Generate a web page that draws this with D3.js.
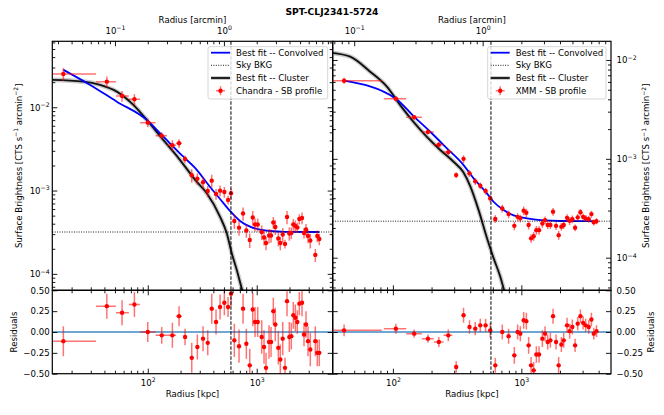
<!DOCTYPE html>
<html>
<head>
<meta charset="utf-8">
<script src="https://cdn.jsdelivr.net/npm/d3@7"></script>
<style>
body { margin: 0; background: #fff; }
svg { font-family: "DejaVu Sans", sans-serif; }
</style>
</head>
<body>
<svg width="664" height="415"></svg>
<script>
// ---- data ----
var title = "SPT-CLJ2341-5724";
var kpcPerArcmin = 500;
var r500 = 580;

// Chandra profile (left)
var chandraR = [16.8, 42.1, 58.1, 75.4, 100, 134.4, 168.2, 193.7, 219.9, 253.3,
  285.2, 321.6, 355.2, 386.5, 423.2, 460.7, 504.4, 545.5, 581, 623,
  688, 749, 803, 863, 919, 965, 1021, 1111, 1167, 1217,
  1297, 1353, 1420, 1481, 1578, 1646, 1732, 1818, 1897, 1991,
  2077, 2167, 2261, 2358, 2460, 2604, 2716, 2834, 2956, 3102,
  3449, 3597, 3752];
var chandraSB = [0.02512, 0.02029, 0.01367, 0.01247, 0.006533, 0.004562, 0.003498, 0.003697, 0.002394, 0.001527,
  0.00139, 0.001258, 0.000989, 0.001315, 0.00091, 0.000997, 0.000962, 0.000771, 0.000928, 0.000431,
  0.000359, 0.000531, 0.000332, 0.000255, 0.000475, 0.000392, 0.000392, 0.000318, 0.000273, 0.000235,
  0.000289, 0.000289, 0.000414, 0.000366, 0.000266, 0.000235, 0.000297, 0.000229, 0.000482, 0.000305,
  0.00031, 0.000392, 0.000376, 0.000361, 0.000456, 0.000469, 0.00031, 0.000341, 0.000285, 0.000252,
  0.000169, 0.000285, 0.000262];
var chandraRes = [-0.11, 0.31, 0.23, 0.33, 0.0, -0.04, -0.04, 0.19, -0.06, -0.31,
  -0.18, -0.08, -0.13, 0.28, 0.12, 0.30, 0.35, 0.30, 0.46, -0.10,
  -0.17, 0.28, -0.14, -0.40, 0.27, 0.12, 0.12, -0.06, -0.18, -0.43,
  -0.12, -0.12, 0.25, 0.09, -0.19, -0.33, -0.08, -0.43, 0.37, -0.06,
  -0.05, 0.20, 0.17, 0.12, 0.34, 0.35, -0.03, 0.09, -0.11, -0.21,
  -0.11, -0.25, -0.25];
var chandraErr = [0.18, 0.15, 0.15, 0.15, 0.12, 0.1, 0.15, 0.12, 0.1, 0.18,
  0.15, 0.15, 0.15, 0.18, 0.15, 0.15, 0.15, 0.12, 0.15, 0.2,
  0.2, 0.18, 0.18, 0.2, 0.2, 0.18, 0.18, 0.2, 0.2, 0.18,
  0.2, 0.18, 0.16, 0.2, 0.2, 0.18, 0.2, 0.12, 0.18, 0.18,
  0.16, 0.16, 0.16, 0.14, 0.14, 0.16, 0.14, 0.16, 0.18, 0.2,
  0.18, 0.16, 0.16];
var chandraBins = [[13.3, 33.5], [33.5, 51], [51, 67], [67, 85], [85, 118], [118, 150], [150, 182], [182, 205]];
var chandraBkg = 3.18e-4;
var chandraConv = [[16.8, 0.0281], [29.6, 0.01853], [52, 0.01167], [97.9, 0.00705], [134.4, 0.00465],
  [212, 0.00255], [271.6, 0.001867], [372.9, 0.001105], [460.7, 0.000793], [568.9, 0.000569],
  [702.7, 0.000432], [867.9, 0.000369], [1072, 0.000339], [1324, 0.000327], [1818, 0.00032], [3752, 0.000318]];
var chandraClus = [[13.3, 0.0213], [25.6, 0.0203], [36.5, 0.01853], [52, 0.0154], [73.8, 0.01066],
  [97.9, 0.00705], [134, 0.00428], [190, 0.00249], [282, 0.00127], [348, 0.00093],
  [460, 0.000487], [531, 0.000307], [590, 0.000177], [656, 0.000111], [728, 6.7e-5], [781, 4.85e-5]];

// XMM profile (right)
var xmmR = [41.7, 105.5, 146.5, 187.5, 228, 270, 311, 355, 395, 438,
  479, 527, 573, 627, 711, 796, 882, 936, 982, 1043,
  1094, 1140, 1191, 1248, 1309, 1374, 1458, 1530, 1604, 1683,
  1766, 1864, 1953, 2050, 2138, 2270, 2378, 2495, 2622, 2748,
  2884, 3027, 3170, 3347, 3513, 3664, 3846];
var xmmSB = [6.17e-3, 4.06e-3, 2.63e-3, 1.87e-3, 1.39e-3, 1.17e-3, 6.85e-4, 1.0e-3, 7.13e-4, 5.92e-4,
  5.34e-4, 4.72e-4, 3.98e-4, 2.46e-4, 3.15e-4, 2.76e-4, 2.1e-4, 2.59e-4, 2.5e-4, 2.99e-4,
  2.85e-4, 2.14e-4, 1.57e-4, 1.65e-4, 1.9e-4, 1.9e-4, 2.22e-4, 2.4e-4, 2.14e-4, 2.14e-4,
  2.92e-4, 2.1e-4, 1.69e-4, 2.06e-4, 2.14e-4, 2.53e-4, 2.36e-4, 2.45e-4, 2.01e-4, 2.56e-4,
  2.88e-4, 2.59e-4, 2.5e-4, 2.45e-4, 2.76e-4, 2.28e-4, 2.34e-4];
var xmmRes = [0.02, 0.04, -0.02, -0.08, -0.12, -0.04, -0.42, 0.20, 0.06, 0.04,
  0.08, 0.08, 0.02, -0.40, 0.0, -0.05, -0.28, 0.0, -0.02, 0.14,
  0.13, -0.16, -0.40, -0.46, -0.27, -0.27, -0.08, -0.02, -0.12, -0.10,
  0.19, -0.12, -0.40, -0.15, -0.10, 0.08, 0.01, 0.06, -0.16, 0.10,
  0.19, 0.11, 0.08, 0.06, 0.15, -0.02, 0.01];
var xmmErr = [0.07, 0.06, 0.05, 0.05, 0.06, 0.07, 0.07, 0.09, 0.08, 0.08,
  0.08, 0.08, 0.09, 0.09, 0.09, 0.09, 0.1, 0.09, 0.09, 0.1,
  0.1, 0.1, 0.1, 0.1, 0.1, 0.1, 0.1, 0.09, 0.09, 0.09,
  0.09, 0.09, 0.1, 0.09, 0.09, 0.09, 0.09, 0.09, 0.08, 0.08,
  0.08, 0.08, 0.08, 0.08, 0.08, 0.07, 0.07];
var xmmBins = [[34, 82], [85, 127], [127, 168], [168, 208], [208, 248], [248, 290]];
var xmmBkg = 2.34e-4;
var xmmConv = [[41.7, 6.17e-3], [105.5, 4.06e-3], [144.7, 2.71e-3], [195.3, 1.88e-3], [263.6, 1.277e-3],
  [355, 8.65e-4], [425, 6.35e-4], [540, 4.47e-4], [608, 3.68e-4], [728, 3.03e-4],
  [871, 2.68e-4], [1108, 2.5e-4], [1492, 2.38e-4], [2014, 2.35e-4], [3890, 2.34e-4]];
var xmmClus = [[32.4, 0.01186], [46.5, 0.0108], [66.5, 0.00761], [89.8, 0.00537], [114, 0.0035],
  [144.7, 0.00237], [184, 0.00167], [233.8, 0.00123], [296.8, 9.35e-4], [353, 7.35e-4],
  [400, 5.3e-4], [465, 3.03e-4], [540, 1.58e-4], [608, 9.9e-5], [686, 6.41e-5], [728, 4.89e-5], [778, 3.72e-5]];

var legendNames = ["Best fit -- Convolved", "Sky BKG", "Best fit -- Cluster"];

// ---- layout ----
var svg = d3.select("svg");
var fs = 8.6;
var yTop0 = 41.3, yTop1 = 290.3, yRes1 = 373.7;

var panels = [
  {id: "L", x0: 52.3, x1: 332.7, rDom: [13.3, 4980], sbDom: [6.35e-5, 0.0619],
   r: chandraR, sb: chandraSB, res: chandraRes, err: chandraErr, bins: chandraBins,
   bkg: chandraBkg, conv: chandraConv, clus: chandraClus, name: "Chandra - SB profile",
   right: false, legX: 208},
  {id: "R", x0: 332.7, x1: 611, rDom: [34, 4990], sbDom: [4.68e-5, 0.01545],
   r: xmmR, sb: xmmSB, res: xmmRes, err: xmmErr, bins: xmmBins,
   bkg: xmmBkg, conv: xmmConv, clus: xmmClus, name: "XMM - SB profile",
   right: true, legX: 487.7}
];

function isMajor(d) { return Math.abs(Math.log10(d) - Math.round(Math.log10(d))) < 1e-9; }

function supLabels(g) {
  g.selectAll(".tick text").each(function(d) {
    var t = d3.select(this), e = Math.round(Math.log10(d));
    t.text(null);
    t.append("tspan").text("10");
    t.append("tspan").attr("dy", -0.4 * fs).attr("font-size", fs * 0.72)
      .text(e < 0 ? "\u2212" + (-e) : String(e));
  });
}

function axisPair(axisFn, scale, tr, labels, pad, sup) {
  var all = scale.ticks(), maj = all.filter(isMajor), min = all.filter(function(d) { return !isMajor(d); });
  var gmin = svg.append("g").attr("transform", tr)
    .call(axisFn(scale).tickValues(min).tickSize(-3).tickFormat(""));
  var a = axisFn(scale).tickValues(maj).tickSize(-5).tickPadding(pad);
  if (!labels) a.tickFormat("");
  var gmaj = svg.append("g").attr("transform", tr).call(a);
  [gmin, gmaj].forEach(function(g) {
    g.select(".domain").remove();
    g.selectAll("line").attr("stroke", "#000").attr("stroke-width", 0.9);
    g.attr("font-size", fs).attr("font-family", "DejaVu Sans, sans-serif");
  });
  if (labels && sup) supLabels(gmaj);
  return gmaj;
}

function richText(x, y, rot, parts, anchor, weight) {
  var t = svg.append("text").attr("font-size", fs).attr("text-anchor", anchor || "middle")
    .attr("transform", "translate(" + x + "," + y + ")" + (rot ? " rotate(" + rot + ")" : ""));
  if (weight) t.attr("font-weight", weight);
  parts.forEach(function(p) {
    var ts = t.append("tspan").text(p[0]);
    if (p[1] === "sup") ts.attr("dy", -0.38 * fs).attr("font-size", fs * 0.7);
    if (p[1] === "back") ts.attr("dy", 0.38 * fs);
  });
  return t;
}

var defs = svg.append("defs");

panels.forEach(function(p) {
  var x = d3.scaleLog().domain(p.rDom).range([p.x0, p.x1]);
  var xa = d3.scaleLog().domain(p.rDom.map(function(d) { return d / kpcPerArcmin; })).range([p.x0, p.x1]);
  var y = d3.scaleLog().domain(p.sbDom).range([yTop1, yTop0]);
  var yr = d3.scaleLinear().domain([-0.5, 0.5]).range([yRes1, yTop1]);

  defs.append("clipPath").attr("id", "clipT" + p.id).append("rect")
    .attr("x", p.x0).attr("y", yTop0).attr("width", p.x1 - p.x0).attr("height", yTop1 - yTop0);
  defs.append("clipPath").attr("id", "clipR" + p.id).append("rect")
    .attr("x", p.x0).attr("y", yTop1).attr("width", p.x1 - p.x0).attr("height", yRes1 - yTop1);

  var top = svg.append("g").attr("clip-path", "url(#clipT" + p.id + ")");
  var bot = svg.append("g").attr("clip-path", "url(#clipR" + p.id + ")");

  var line = d3.line().curve(d3.curveMonotoneX)
    .x(function(d) { return x(d[0]); }).y(function(d) { return y(d[1]); });

  // cluster model with its uncertainty band
  top.append("path").attr("d", line(p.clus)).attr("fill", "none")
    .attr("stroke", "#9a9a9a").attr("stroke-opacity", 0.5).attr("stroke-width", 4.6);
  top.append("path").attr("d", line(p.clus)).attr("fill", "none")
    .attr("stroke", "#111").attr("stroke-width", 1.9);
  // convolved model
  top.append("path").attr("d", line(p.conv)).attr("fill", "none")
    .attr("stroke", "#0000ff").attr("stroke-width", 1.8);
  // sky background
  top.append("line").attr("x1", p.x0).attr("x2", p.x1).attr("y1", y(p.bkg)).attr("y2", y(p.bkg))
    .attr("stroke", "#000").attr("stroke-width", 0.9).attr("stroke-dasharray", "1,1.4");
  // R500
  svg.append("line").attr("x1", x(r500)).attr("x2", x(r500)).attr("y1", yTop0).attr("y2", yRes1)
    .attr("stroke", "#000").attr("stroke-width", 1).attr("stroke-dasharray", "3.5,1.5");

  // zero line of residuals
  bot.append("line").attr("x1", p.x0).attr("x2", p.x1).attr("y1", yr(0)).attr("y2", yr(0))
    .attr("stroke", "#6fa6d2").attr("stroke-width", 2);

  var pts = p.r.map(function(r, i) {
    return {r: r, sb: p.sb[i], res: p.res[i], e: p.err[i], bin: p.bins[i]};
  });
  var ebStyle = function(s) { return s.attr("stroke", "#ff0000").attr("stroke-opacity", 0.55).attr("stroke-width", 1.5); };

  // surface brightness points
  top.selectAll(".ey").data(pts).enter().append("line")
    .attr("x1", function(d) { return x(d.r); }).attr("x2", function(d) { return x(d.r); })
    .attr("y1", function(d) { return y(d.sb * (1 - d.e)); }).attr("y2", function(d) { return y(d.sb * (1 + d.e)); })
    .call(ebStyle);
  top.selectAll(".ex").data(pts.filter(function(d) { return d.bin; })).enter().append("line")
    .attr("x1", function(d) { return x(d.bin[0]); }).attr("x2", function(d) { return x(d.bin[1]); })
    .attr("y1", function(d) { return y(d.sb); }).attr("y2", function(d) { return y(d.sb); })
    .call(ebStyle);
  top.selectAll(".pt").data(pts).enter().append("circle")
    .attr("cx", function(d) { return x(d.r); }).attr("cy", function(d) { return y(d.sb); })
    .attr("r", 2.2).attr("fill", "#ff0000");

  // residual points
  bot.selectAll(".ey").data(pts).enter().append("line")
    .attr("x1", function(d) { return x(d.r); }).attr("x2", function(d) { return x(d.r); })
    .attr("y1", function(d) { return yr(d.res - d.e); }).attr("y2", function(d) { return yr(d.res + d.e); })
    .call(ebStyle);
  bot.selectAll(".ex").data(pts.filter(function(d) { return d.bin; })).enter().append("line")
    .attr("x1", function(d) { return x(d.bin[0]); }).attr("x2", function(d) { return x(d.bin[1]); })
    .attr("y1", function(d) { return yr(d.res); }).attr("y2", function(d) { return yr(d.res); })
    .call(ebStyle);
  bot.selectAll(".pt").data(pts).enter().append("circle")
    .attr("cx", function(d) { return x(d.r); }).attr("cy", function(d) { return yr(d.res); })
    .attr("r", 2.2).attr("fill", "#ff0000");

  // frames
  svg.append("rect").attr("x", p.x0).attr("y", yTop0).attr("width", p.x1 - p.x0).attr("height", yTop1 - yTop0)
    .attr("fill", "none").attr("stroke", "#000").attr("stroke-width", 1.2);
  svg.append("rect").attr("x", p.x0).attr("y", yTop1).attr("width", p.x1 - p.x0).attr("height", yRes1 - yTop1)
    .attr("fill", "none").attr("stroke", "#000").attr("stroke-width", 1.2);

  // x axes
  axisPair(d3.axisBottom, x, "translate(0," + yTop1 + ")", false, 0, false);
  axisPair(d3.axisTop, x, "translate(0," + yTop1 + ")", false, 0, false);
  axisPair(d3.axisBottom, x, "translate(0," + yRes1 + ")", true, 6, true);
  axisPair(d3.axisTop, xa, "translate(0," + yTop0 + ")", true, 7.8, true);

  // y axes (surface brightness)
  axisPair(d3.axisLeft, y, "translate(" + p.x0 + ",0)", !p.right, 2.6, true);
  axisPair(d3.axisRight, y, "translate(" + p.x1 + ",0)", p.right, 5.6, true);

  // y axes (residuals)
  var rt = [-0.5, -0.25, 0, 0.25, 0.5];
  [[d3.axisLeft, p.x0, !p.right, 2.6], [d3.axisRight, p.x1, p.right, 5.6]].forEach(function(s) {
    var a = s[0](yr).tickValues(rt).tickSize(-5).tickPadding(s[3]);
    a.tickFormat(s[2] ? d3.format(".2f") : "");
    var g = svg.append("g").attr("transform", "translate(" + s[1] + ",0)").call(a);
    g.select(".domain").remove();
    g.selectAll("line").attr("stroke", "#000").attr("stroke-width", 0.9);
    g.attr("font-size", fs).attr("font-family", "DejaVu Sans, sans-serif");
  });

  // axis titles
  var cx = (p.x0 + p.x1) / 2;
  richText(cx, 396.5, 0, [["Radius [kpc]"]]);
  richText(cx, 22.6, 0, [["Radius [arcmin]"]]);
  var sbx = p.right ? 649 : 21.5, rsx = p.right ? 654 : 16.5;
  richText(sbx, (yTop0 + yTop1) / 2, -90,
    [["Surface Brightness [CTS s"], ["\u22121", "sup"], [" arcmin", "back"], ["\u22122", "sup"], ["]", "back"]]);
  richText(rsx, (yTop1 + yRes1) / 2, -90, [["Residuals"]]);

  // legend
  var lx = p.legX, ly = 46.7, lw = p.right ? 118.3 : 119.7, lh = 52.3;
  var lg = svg.append("g");
  lg.append("rect").attr("x", lx).attr("y", ly).attr("width", lw).attr("height", lh).attr("rx", 2)
    .attr("fill", "#fff").attr("fill-opacity", 0.8).attr("stroke", "#cccccc").attr("stroke-width", 0.8);
  var rows = [ly + 6, ly + 18.6, ly + 31.3, ly + 44];
  var names = legendNames.concat([p.name]);
  names.forEach(function(n, i) {
    lg.append("text").attr("x", lx + 28).attr("y", rows[i] + 3.1).attr("font-size", fs).text(n);
  });
  lg.append("line").attr("x1", lx + 3).attr("x2", lx + 22).attr("y1", rows[0]).attr("y2", rows[0])
    .attr("stroke", "#0000ff").attr("stroke-width", 1.8);
  lg.append("line").attr("x1", lx + 3).attr("x2", lx + 22).attr("y1", rows[1]).attr("y2", rows[1])
    .attr("stroke", "#000").attr("stroke-width", 0.9).attr("stroke-dasharray", "1,1.4");
  lg.append("line").attr("x1", lx + 3).attr("x2", lx + 22).attr("y1", rows[2]).attr("y2", rows[2])
    .attr("stroke", "#9a9a9a").attr("stroke-opacity", 0.5).attr("stroke-width", 4);
  lg.append("line").attr("x1", lx + 3).attr("x2", lx + 22).attr("y1", rows[2]).attr("y2", rows[2])
    .attr("stroke", "#222").attr("stroke-width", 2);
  var mx = lx + 12.5, my = rows[3];
  lg.append("line").attr("x1", mx).attr("x2", mx).attr("y1", my - 4.5).attr("y2", my + 4.5).call(ebStyle);
  lg.append("line").attr("x1", mx - 4.5).attr("x2", mx + 4.5).attr("y1", my).attr("y2", my).call(ebStyle);
  lg.append("circle").attr("cx", mx).attr("cy", my).attr("r", 2.2).attr("fill", "#ff0000");
});

// title
svg.append("text").attr("x", 332).attr("y", 15).attr("text-anchor", "middle")
  .attr("font-size", 9.2).attr("font-weight", "bold").text(title);
</script>
</body>
</html>
